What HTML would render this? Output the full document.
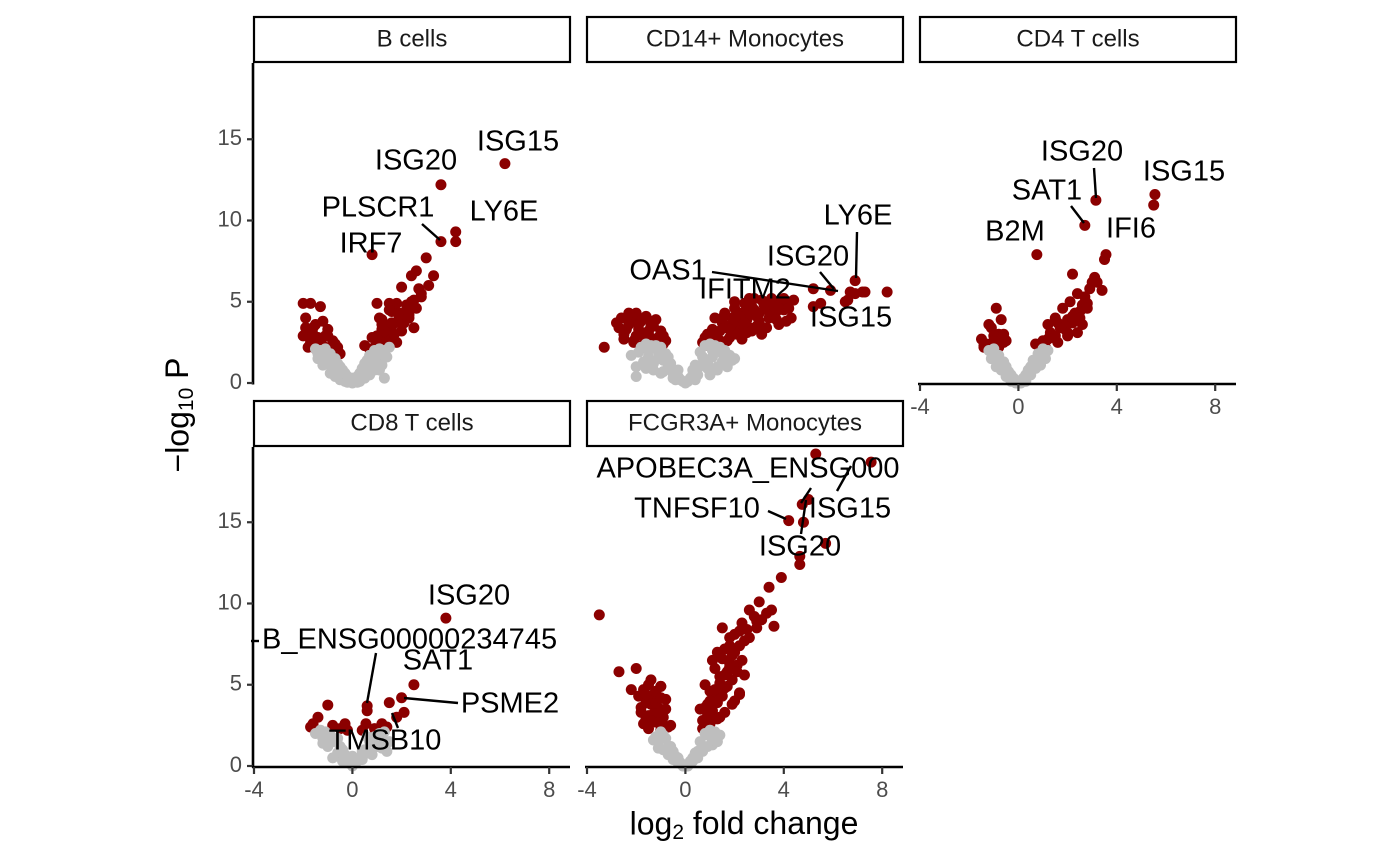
<!DOCTYPE html>
<html><head><meta charset="utf-8">
<style>
html,body{margin:0;padding:0;background:#fff;}
svg{display:block;font-family:"Liberation Sans",Arial,sans-serif;}
</style></head>
<body>
<svg id="chart" width="1400" height="866" viewBox="0 0 1400 866"></svg>
<script>
// ---- data (log2 fold change, -log10 P) ----
const panelNames = ["B cells","CD14+ Monocytes","CD4 T cells","CD8 T cells","FCGR3A+ Monocytes"];
const xTicks = [-4,0,4,8];
const yTicks = [0,5,10,15];

const bRedX = [6.2,3.6,4.2,3.6,4.2,0.8,3.0,3.3,2.4,3.1,2.0,2.6,1.8,2.8,2.2,1.5,1.9,2.3,1.2,1.6,2.0,2.5,1.4,1.0,1.8,2.1,1.3,0.9,1.1,1.7,-2.0,-1.7,-1.3,-1.9,-1.5,-1.2,-1.8,-1.0,-1.4,-1.7,-0.8,-1.2,-0.6,-1.5,-0.9,-2.0,-0.5,0.5,0.7,1.0,2.4,2.7,1.6,1.2,-1.6,-1.1,1.0,1.3,1.6,1.9,2.2,2.5,2.8,1.1,1.4,1.7,2.0,2.3,2.6,0.8,1.2,1.5,-1.9,-1.6,-1.3,-1.0,-0.7,-1.8,-1.5,-1.2,-0.9];
const bRedY = [13.5,12.2,9.3,8.7,8.7,7.9,7.7,6.6,6.6,6.0,5.9,6.9,4.9,5.3,4.8,4.9,4.3,4.0,3.9,3.5,3.2,3.4,2.9,2.7,2.5,3.7,3.0,2.2,4.0,2.6,4.9,4.9,4.7,4.0,3.6,3.8,3.1,3.3,2.8,2.5,2.6,2.3,2.2,2.1,1.9,2.9,1.8,2.3,2.1,4.9,5.0,5.8,4.4,3.3,3.4,2.9,2.9,3.2,3.7,4.1,4.5,5.1,5.5,2.4,2.5,3.0,3.6,4.2,4.6,2.8,3.6,4.5,3.4,3.0,2.6,2.9,2.4,2.2,2.3,2.0,2.2];
const bGrayX = [-1.5,-1.3,-1.1,-0.9,-0.7,-0.5,-0.3,-0.1,0.1,0.3,0.5,0.7,0.9,1.1,1.3,1.5,-1.2,-1.0,-0.8,-0.6,-0.4,0.4,0.6,0.8,1.0,1.2,-0.9,-0.7,-0.5,-0.3,0.3,0.5,0.7,0.9,-0.2,0.0,0.2,1.1,1.3,-1.4,-1.4,-1.0,-0.6,-0.2,0.2,0.6,1.0,1.4,-1.2,-0.8,-0.4,0.4,0.8,1.2,0.0];
const bGrayY = [2.1,2.0,2.1,1.8,1.5,1.0,0.6,0.2,0.2,0.6,1.2,1.7,2.0,2.1,2.0,2.2,1.5,1.2,0.9,0.6,0.3,0.4,0.7,1.0,1.3,1.5,0.6,0.4,0.2,0.1,0.1,0.3,0.5,0.8,0.05,0.0,0.05,0.8,0.3,1.8,1.5,1.7,1.2,0.4,0.4,1.4,1.7,1.6,1.1,1.3,0.8,0.9,1.4,1.1,0.3];

const mRedX = [6.9,6.7,6.5,7.3,8.2,6.9,5.5,5.2,5.9,4.4,5.2,6.6,7.2,-3.3,-2.8,-2.6,-2.4,-2.2,-2.0,-1.8,-1.6,-1.4,-1.2,-1.0,-0.8,-2.5,-2.1,-1.7,-1.3,-0.9,-2.3,-1.9,-1.5,0.7,0.9,1.1,1.3,1.5,1.7,1.9,2.1,2.3,2.5,2.7,2.9,3.1,3.3,3.5,3.7,3.9,4.1,1.0,1.4,1.8,2.2,2.6,3.0,3.4,3.8,1.2,1.6,2.0,2.4,2.8,3.2,3.6,4.0,4.3,0.8,1.5,2.3,3.1,2.0,2.6,0.8,1.0,1.2,1.4,1.6,1.8,2.0,2.2,2.4,2.6,2.8,3.0,3.2,3.4,3.6,3.8,4.0,4.2,1.3,1.7,2.1,2.5,2.9,3.3,3.7,4.1,0.9,1.5,2.7,3.5,-2.7,-2.3,-1.9,-1.5,-1.1,-2.5,-2.1,-1.7,-1.3,-0.9,-2.0,-1.4];
const mRedY = [6.3,5.6,5.0,5.6,5.6,5.5,4.9,5.8,5.7,5.1,4.7,5.1,5.6,2.2,3.7,4.0,3.3,3.9,4.3,3.8,4.1,3.5,3.9,3.2,2.6,3.0,2.6,2.9,2.7,2.4,4.3,3.3,3.0,2.5,3.0,3.3,3.1,3.7,3.5,4.0,3.6,4.3,3.9,4.7,4.1,5.1,4.6,5.2,4.4,5.0,4.8,2.7,2.6,2.8,3.2,3.4,3.8,4.0,3.6,4.0,4.3,4.6,4.9,5.2,5.0,4.2,4.5,4.0,2.8,2.4,2.7,3.0,5.0,5.2,2.3,2.6,2.9,3.2,3.4,3.3,3.9,4.1,3.7,4.4,4.5,4.3,4.8,4.4,4.7,4.6,5.2,4.6,2.5,2.6,3.0,3.1,3.5,3.4,3.9,3.8,3.0,4.0,3.2,5.0,3.4,3.6,3.6,3.2,2.8,2.7,2.5,2.4,3.5,2.9,2.9,3.8];
const mGrayX = [-2.2,-2.0,-1.8,-1.6,-1.4,-1.2,-1.0,-0.8,-0.6,-0.4,-0.2,0.0,0.2,0.4,0.6,0.8,1.0,1.2,1.4,1.6,1.8,2.0,-1.5,-1.1,-0.7,-0.3,0.3,0.7,1.1,1.5,-1.3,-0.9,-0.5,0.5,0.9,1.3,-0.1,0.1,-2.0,-1.6,1.7,-1.9,-1.5,-1.1,-0.7,-0.3,0.3,0.7,1.1,1.5,1.9,-1.7,-1.3,-0.9,-0.5,0.5,0.9,1.3,1.7,-1.0,1.0,-0.4,0.4];
const mGrayY = [1.7,0.4,2.2,2.4,2.3,2.3,2.2,1.8,1.2,0.6,0.2,0.0,0.3,1.1,1.9,2.3,2.4,2.3,2.2,2.0,1.7,1.5,1.6,1.5,1.0,0.4,0.5,1.2,1.6,1.3,0.8,0.7,0.3,0.5,0.9,0.8,0.1,0.1,1.0,0.9,1.0,1.9,2.0,1.9,1.6,0.8,0.8,1.6,2.0,1.8,1.4,1.3,1.2,1.4,0.6,0.9,1.2,1.0,1.1,0.6,0.5,0.2,0.2];

const c4RedX = [5.55,5.5,3.15,2.7,0.75,3.56,3.5,1.2,1.5,1.8,2.1,2.4,2.7,3.0,1.3,1.7,2.0,2.3,2.6,2.9,1.0,1.4,1.9,2.2,2.5,2.8,0.9,1.1,1.6,2.0,2.4,3.1,-1.5,-1.3,-1.1,-0.9,-0.7,-0.5,-1.2,-0.8,-1.4,-0.6,-1.0,0.7,1.2,2.2,1.0,1.3,1.6,1.9,2.2,2.5,2.8,1.5,2.0,2.6,-1.4,-1.0,-0.6,-1.2,-0.8,3.2,3.4];
const c4RedY = [11.6,10.95,11.25,9.7,7.9,7.9,7.6,3.6,4.0,4.6,5.0,5.5,5.3,6.2,3.0,3.4,3.9,4.3,4.8,5.8,2.6,2.8,3.3,3.7,4.4,4.9,2.3,2.2,2.5,2.9,3.1,6.5,2.7,2.4,3.4,4.6,3.9,2.6,2.3,3.0,2.2,2.5,2.9,2.4,2.7,6.7,2.4,3.1,3.7,3.5,4.1,4.0,4.6,2.9,3.1,3.6,2.3,2.6,3.0,3.6,2.2,6.2,5.7];
const c4GrayX = [-1.2,-1.0,-0.8,-0.6,-0.4,-0.2,0.0,0.2,0.4,0.6,0.8,1.0,1.2,-0.9,-0.5,-0.3,0.3,0.5,0.9,-0.7,0.7,-0.1,0.1,-1.1,1.1,-0.9,-0.5,0.5,0.9,-0.7,0.7,0.3,-0.3];
const c4GrayY = [2.0,2.1,1.7,1.3,0.7,0.3,0.0,0.3,0.8,1.4,1.8,2.1,2.0,1.0,0.4,0.1,0.1,0.5,1.1,0.8,0.9,0.0,0.0,1.5,1.5,1.6,1.0,1.0,1.6,1.2,1.2,0.5,0.5];

const c8RedX = [3.8,2.5,2.0,1.5,2.1,0.6,0.6,1.8,-1.0,-1.6,-0.3,0.55,-1.4,-1.7,-0.8,1.2,-0.5,-1.5,-1.2,0.4,0.9,1.4,-0.2];
const c8RedY = [9.1,5.0,4.2,3.9,3.3,3.7,3.4,3.0,3.75,2.6,2.6,2.6,3.0,2.4,2.5,2.6,2.3,2.2,2.1,2.2,2.3,2.4,2.2];
const c8GrayX = [-1.5,-1.3,-1.1,-0.9,-0.7,-0.5,-0.3,-0.1,0.1,0.3,0.5,0.7,0.9,1.1,1.3,1.5,-1.0,-0.6,-0.2,0.2,0.6,1.0,-0.8,-0.4,0.4,0.8,0.0,1.2,-1.2,1.4,-1.2,-0.8,-0.4,0.4,0.8,1.2,0.0,-0.6,0.6];
const c8GrayY = [2.0,2.2,2.1,1.9,1.6,1.2,0.7,0.3,0.2,0.5,1.0,1.5,1.8,2.0,2.1,1.5,1.2,0.8,0.3,0.3,0.8,1.2,0.5,0.3,0.4,0.7,0.0,1.1,1.4,0.9,1.7,1.5,1.0,0.9,1.3,1.7,0.6,1.7,1.8];

const fRedX = [5.3,7.55,4.75,5.0,4.2,4.8,5.7,4.65,4.65,3.9,3.4,-3.5,-2.7,-2.0,-2.2,3.0,2.8,3.3,3.6,2.6,2.3,2.9,3.5,2.0,2.5,1.8,2.2,1.5,1.6,1.9,1.3,1.1,2.1,1.7,1.4,0.8,1.0,1.2,0.6,0.9,1.6,2.4,1.8,-1.9,-1.7,-1.5,-1.3,-1.1,-0.9,-0.7,-1.8,-1.4,-1.0,-0.6,-1.6,-1.2,-0.8,-1.3,-1.5,-1.0,1.4,2.2,2.0,0.7,0.7,0.9,1.1,1.3,1.5,1.7,1.9,2.1,2.3,0.8,1.0,1.2,1.4,1.6,1.8,2.0,2.2,2.4,1.0,1.3,1.6,1.9,2.2,1.2,1.5,1.8,-1.8,-1.6,-1.4,-1.2,-1.0,-0.8,-1.7,-1.5,-1.3,-1.1,-0.9,-1.6,-1.2,-1.4,-1.0,2.6,2.9,3.1];
const fRedY = [19.2,18.7,16.1,16.4,15.1,15.0,13.7,12.4,12.9,11.6,11.0,9.3,5.8,6.0,4.7,10.1,9.2,9.4,8.6,9.6,8.8,8.5,9.6,8.1,8.4,7.9,8.3,8.5,7.2,6.8,7.0,6.5,6.2,5.8,5.5,5.0,4.6,4.2,3.5,3.8,4.8,5.6,6.1,4.3,4.7,5.0,4.4,3.6,3.0,2.4,3.3,3.8,4.9,2.5,2.9,2.7,4.1,3.2,2.3,2.2,3.0,4.5,4.0,2.3,2.8,3.1,3.4,3.9,4.3,4.9,5.3,5.8,6.5,3.6,4.0,4.7,5.1,5.6,6.3,7.0,7.4,7.7,2.6,2.9,3.3,3.8,4.4,6.0,6.6,7.4,3.6,3.9,4.1,4.6,4.9,3.5,2.6,3.1,2.8,3.3,2.5,4.4,3.9,5.3,4.2,7.9,8.9,9.0];
const fGrayX = [-1.2,-1.0,-0.8,-0.6,-0.4,-0.2,0.0,0.2,0.4,0.6,0.8,1.0,1.2,1.4,-1.1,-0.7,-0.3,0.3,0.7,1.1,-0.9,-0.5,0.5,0.9,-0.1,0.1,1.3,-1.3,-1.1,-0.7,-0.3,0.3,0.7,1.1,-0.9,0.9,-0.5,0.5];
const fGrayY = [1.8,2.1,1.7,1.2,0.6,0.2,0.0,0.3,0.8,1.5,2.0,2.2,2.1,1.9,1.1,0.7,0.2,0.3,0.9,1.3,1.0,0.4,0.5,1.2,0.0,0.0,1.5,1.6,1.5,1.2,0.5,0.5,1.2,1.6,1.9,1.9,0.9,0.9];

const redX=[bRedX,mRedX,c4RedX,c8RedX,fRedX], redY=[bRedY,mRedY,c4RedY,c8RedY,fRedY];
const grayX=[bGrayX,mGrayX,c4GrayX,c8GrayX,fGrayX], grayY=[bGrayY,mGrayY,c4GrayY,c8GrayY,fGrayY];

// labels: text, text center (px), optional connector
const labelText=["ISG15","ISG20","PLSCR1","LY6E","IRF7","LY6E","ISG20","OAS1","IFITM2","ISG15","ISG20","ISG15","SAT1","IFI6","B2M","ISG20","B_ENSG00000234745","SAT1","PSME2","TMSB10","APOBEC3A_ENSG000","ISG15","TNFSF10","ISG20"];
const labelTX=[518,416,378,504,371,858,808,668,745,851,1082,1184,1047,1131,1015,469,262,438,510,385,748,850,697,800];
const labelTY=[143,162,209,213,245,217,258,272,291,319,153,173,192,230,233,597,641,662,705,742,470,510,510,548];
const labelAnchor=["middle","middle","middle","middle","middle","middle","middle","middle","middle","middle","middle","middle","middle","middle","middle","middle","start","middle","middle","middle","middle","middle","middle","middle"];
const labelLine=[null,null,[422,224,440,240],null,null,[857,232,856,278],[820,272,834,289],[712,272,838,291],null,null,[1094,168,1096,198],null,[1071,206,1084,223],null,null,null,[376,653,367,703],null,[458,703,404,698],[398,728,392,713],[811,488,801,503],[851,466,837,491],[768,511,786,519],[801,534,806,500]];

// ---- layout ----
const panelLeft=[254,587,920,254,587];
const panelBase=[383,383,383,766,766];
const panelTop=[63,63,63,447,447];
const PW=316, XU=24.6, YU=16.25;
const xScale=(p,v)=>panelLeft[p]+(v+4)*XU;
const yScale=(p,v)=>panelBase[p]-v*YU;

const NS="http://www.w3.org/2000/svg";
const svg=document.getElementById('chart');
function mk(tag,attrs,parent){const e=document.createElementNS(NS,tag);for(const k in attrs)e.setAttribute(k,attrs[k]);(parent||svg).appendChild(e);return e;}

for(let p=0;p<5;p++){
  const g=mk('g',{});
  
  
  const L=panelLeft[p], B=panelBase[p], T=panelTop[p];
  const sr=mk('rect',{x:L,y:T-46,width:PW,height:45,fill:'#fff',stroke:'#000','stroke-width':2.2},g);
  
  
  const st=mk('text',{x:L+PW/2,y:T-23,'text-anchor':'middle','dominant-baseline':'middle','font-size':24,fill:'#1a1a1a'},g);
  st.textContent=panelNames[p];
  
  
  for(let i=0;i<redX[p].length;i++){
    const c=mk('circle',{cx:xScale(p,redX[p][i]),cy:yScale(p,redY[p][i]),r:5.5,fill:'#8b0000'},g);
    
    
  }
  for(let i=0;i<grayX[p].length;i++){
    const c=mk('circle',{cx:xScale(p,grayX[p][i]),cy:yScale(p,grayY[p][i]),r:5.5,fill:'#bebebe'},g);
    
    
  }
  if(p===0||p===3){
    const ya=mk('line',{x1:L-1,y1:T,x2:L-1,y2:B+1.5,stroke:'#000','stroke-width':2.6},g);
    
    
    yTicks.forEach(t=>{
      const y=yScale(p,t);
      mk('line',{x1:L-7,y1:y,x2:L-1,y2:y,stroke:'#333','stroke-width':2.2},g);
      const tl=mk('text',{x:L-12,y:y,'text-anchor':'end','dominant-baseline':'middle','font-size':22,fill:'#4d4d4d'},g);
      tl.textContent=t;
      
      
    });
  }
  if(p>=2){
    const xa=mk('line',{x1:L-2,y1:B+1,x2:L+PW,y2:B+1,stroke:'#000','stroke-width':2.6},g);
    
    
    xTicks.forEach(t=>{
      const x=xScale(p,t);
      mk('line',{x1:x,y1:B+1,x2:x,y2:B+8,stroke:'#333','stroke-width':2.2},g);
      const tl=mk('text',{x:x,y:B+25,'text-anchor':'middle','dominant-baseline':'middle','font-size':22,fill:'#4d4d4d'},g);
      tl.textContent=t;
      
      
    });
  }
}
for(let i=0;i<labelText.length;i++){
  const ln=labelLine[i];
  if(ln){
    const l=mk('line',{x1:ln[0],y1:ln[1],x2:ln[2],y2:ln[3],stroke:'#000','stroke-width':2.4});
    
    
  }
  const t=mk('text',{x:labelTX[i],y:labelTY[i],'text-anchor':labelAnchor[i],'dominant-baseline':'middle','font-size':29,fill:'#000'});
  t.textContent=labelText[i];
  
  
}
mk('line',{x1:251,y1:641,x2:259,y2:641,stroke:'#000','stroke-width':2.4});
</script>
<div style="position:absolute;left:0;top:0;width:1400px;height:866px;pointer-events:none;">
<svg width="1400" height="866" style="position:absolute;left:0;top:0;">
<text x="744" y="826" text-anchor="middle" dominant-baseline="middle" font-size="32" font-family="Liberation Sans, sans-serif" fill="#000">log<tspan font-size="21" dy="7">2</tspan><tspan dy="-7"> fold change</tspan></text>
<text transform="translate(180,415) rotate(-90)" text-anchor="middle" dominant-baseline="middle" font-size="32" font-family="Liberation Sans, sans-serif" fill="#000">−log<tspan font-size="21" dy="7">10</tspan><tspan dy="-7"> P</tspan></text>
</svg>
</div>
</body></html>
